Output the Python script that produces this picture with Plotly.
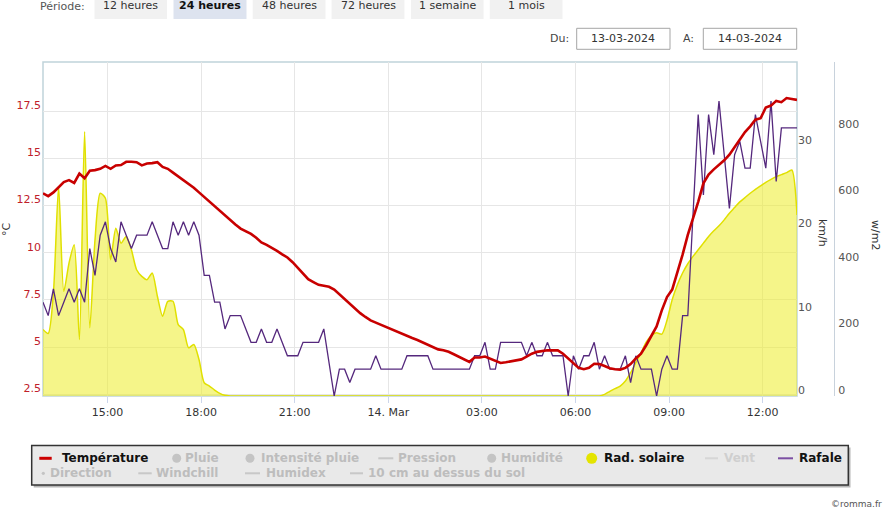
import pandas as pd
import plotly.graph_objects as go

# ---------------- data (10-minute samples, 13-03-2024 12:56 -> 14-03-2024 13:06) ----------------
start_time = "2024-03-13 12:56"
n_samples = 146
times = pd.date_range(start_time, periods=n_samples, freq="10min")

temperature = [
    13.15, 13.0, 13.2, 13.45, 13.75, 13.85, 13.7, 14.2, 13.95, 14.35,
    14.38, 14.45, 14.6, 14.45, 14.63, 14.65, 14.82, 14.82, 14.8, 14.63,
    14.73, 14.75, 14.8, 14.55, 14.45, 14.25, 14.05, 13.85, 13.65, 13.45,
    13.2, 12.95, 12.7, 12.45, 12.2, 11.95, 11.73, 11.5, 11.28, 11.15,
    11.0, 10.8, 10.55, 10.42, 10.27, 10.1, 9.92, 9.75, 9.5, 9.2,
    8.9, 8.6, 8.45, 8.3, 8.25, 8.2, 8.05, 7.8, 7.5, 7.25,
    7.0, 6.8, 6.6, 6.42, 6.3, 6.18, 6.08, 5.95, 5.8, 5.68,
    5.58, 5.48, 5.38, 5.25, 5.1, 4.97, 4.88, 4.83, 4.75, 4.62,
    4.5, 4.35, 4.22, 4.45, 4.45, 4.5, 4.38, 4.25, 4.16, 4.2,
    4.25, 4.3, 4.35, 4.5, 4.65, 4.75, 4.8, 4.83, 4.83, 4.83,
    4.65, 4.4, 4.13, 3.9, 3.83, 3.9, 4.12, 4.1, 4.0, 3.88,
    3.83, 3.81, 3.9, 4.1, 4.4, 4.65, 5.1, 5.6, 6.1, 6.95,
    7.65, 8.05, 8.95, 9.9, 10.95, 11.8, 12.7, 13.68, 14.15, 14.42,
    14.65, 14.9, 15.2, 15.62, 16.05, 16.4, 16.7, 17.05, 17.13, 17.7,
    17.8, 18.05, 17.98, 18.2, 18.15, 18.1,
]

rafale = [
    11.26, 9.65, 12.87, 9.65, 11.26, 12.87, 11.26, 12.87, 11.26, 17.70,
    14.48, 19.31, 20.92, 17.70, 16.09, 20.92, 19.31, 17.70, 19.31, 19.31,
    19.31, 20.92, 19.31, 17.70, 17.70, 20.92, 19.31, 20.92, 19.31, 20.92,
    19.31, 14.48, 14.48, 11.26, 11.26, 8.05, 9.65, 9.65, 9.65, 8.05,
    6.44, 6.44, 8.05, 6.44, 6.44, 8.05, 6.44, 4.83, 4.83, 4.83,
    6.44, 6.44, 6.44, 6.44, 8.05, 4.00, 0.00, 3.22, 3.22, 1.61,
    3.22, 3.22, 3.22, 3.22, 4.83, 3.22, 3.22, 3.22, 3.22, 3.22,
    4.83, 4.83, 4.83, 4.83, 4.83, 3.22, 3.22, 3.22, 3.22, 3.22,
    3.22, 3.22, 3.22, 4.83, 4.83, 6.44, 3.22, 3.22, 6.44, 6.44,
    6.44, 6.44, 6.44, 4.83, 6.44, 4.83, 4.83, 6.44, 4.83, 4.83,
    4.83, 0.00, 4.83, 3.22, 4.83, 4.83, 6.44, 3.22, 4.83, 3.22,
    3.22, 3.22, 4.83, 1.61, 4.83, 3.22, 3.22, 3.22, 0.00, 3.22,
    4.83, 3.22, 3.22, 9.65, 9.65, 22.53, 33.79, 24.14, 33.79, 28.97,
    35.40, 29.00, 22.53, 28.97, 30.58, 27.36, 27.36, 33.79, 30.60, 27.36,
    35.40, 25.75, 32.19, 32.19, 32.19, 32.19,
]

rad_solaire = [
    200, 188, 310, 630, 315, 400, 455, 170, 795, 205,
    470, 610, 595, 410, 505, 460, 480, 440, 380, 360,
    350, 370, 300, 240, 285, 285, 215, 200, 145, 155,
    110, 40, 30, 18, 8, 2, 0, 0, 0, 0,
    0, 0, 0, 0, 0, 0, 0, 0, 0, 0,
    0, 0, 0, 0, 0, 0, 0, 0, 0, 0,
    0, 0, 0, 0, 0, 0, 0, 0, 0, 0,
    0, 0, 0, 0, 0, 0, 0, 0, 0, 0,
    0, 0, 0, 0, 0, 0, 0, 0, 0, 0,
    0, 0, 0, 0, 0, 0, 0, 0, 0, 0,
    0, 0, 0, 0, 0, 0, 0, 0, 5, 14,
    22, 30, 45, 70, 100, 130, 162, 182, 190, 186,
    228, 290, 335, 370, 398, 420, 440, 460, 480, 497,
    512, 530, 550, 567, 584, 597, 610, 622, 632, 643,
    652, 660, 666, 672, 680, 545,
]

x_tick_vals = ["2024-03-13 15:00", "2024-03-13 18:00", "2024-03-13 21:00", "2024-03-14 00:00",
               "2024-03-14 03:00", "2024-03-14 06:00", "2024-03-14 09:00", "2024-03-14 12:00"]
x_tick_text = ["15:00", "18:00", "21:00", "14. Mar", "03:00", "06:00", "09:00", "12:00"]
temp_ticks = [2.5, 5, 7.5, 10, 12.5, 15, 17.5]
temp_tick_text = ["2.5", "5", "7.5", "10", "12.5", "15", "17.5"]
wind_ticks = [0, 10, 20, 30]
solar_ticks = [0, 200, 400, 600, 800]

period_buttons = ["12 heures", "24 heures", "48 heures", "72 heures", "1 semaine", "1 mois"]
date_from = "13-03-2024"
date_to = "14-03-2024"

# ---------------- layout helpers ----------------
W, H = 886, 512
ML, MR, MT, MB = 43, 10, 62, 116
PW = W - ML - MR
PH = H - MT - MB
FONT = "DejaVu Sans"


def px(x):
    return (x - ML) / PW


def py(y):
    return (H - MB - y) / PH


x_dom_end = px(797)

fig = go.Figure()

fig.add_trace(go.Scatter(
    x=times, y=rad_solaire, yaxis="y", mode="lines", name="Rad. solaire",
    line=dict(color="#e0e000", width=1.5, shape="spline", smoothing=0.7),
    fill="tozeroy", fillcolor="rgba(236,236,40,0.55)", hoverinfo="skip"))
fig.add_trace(go.Scatter(
    x=times, y=rafale, yaxis="y2", mode="lines", name="Rafale",
    line=dict(color="#55287d", width=1.3)))
fig.add_trace(go.Scatter(
    x=times, y=temperature, yaxis="y3", mode="lines", name="Température",
    line=dict(color="#c80000", width=2.6)))

tickfont_right = dict(family=FONT, size=11, color="#555555")
LSHIFT = -6

fig.update_layout(
    width=W, height=H,
    margin=dict(l=ML, r=MR, t=MT, b=MB, pad=0),
    paper_bgcolor="white", plot_bgcolor="rgba(0,0,0,0)",
    font=dict(family=FONT, size=11, color="#333333"),
    showlegend=False,
    xaxis=dict(
        type="date", domain=[0, x_dom_end], range=[times[0], times[-1]],
        tickvals=x_tick_vals, ticktext=x_tick_text,
        showgrid=True, gridcolor="#e6e6e6", gridwidth=1,
        ticks="outside", ticklen=6, tickcolor="#ccd6eb",
        tickfont=dict(family=FONT, size=11, color="#333333"),
        showline=False, zeroline=False, automargin=False,
    ),
    yaxis=dict(
        range=[0, 1005], side="right", anchor="free", position=px(834),
        tickvals=solar_ticks, showgrid=False, zeroline=False,
        showline=True, linecolor="#c8d2dc", linewidth=1,
        ticks="", tickfont=tickfont_right, ticklabelshift=LSHIFT, ticklabelstandoff=1,
        automargin=False,
    ),
    yaxis2=dict(
        overlaying="y", side="right", anchor="x", range=[0, 40.1],
        tickvals=wind_ticks, showgrid=False, zeroline=False, showline=False,
        ticks="", tickfont=tickfont_right, ticklabelshift=LSHIFT, ticklabelstandoff=0,
        automargin=False,
    ),
    yaxis3=dict(
        overlaying="y", side="left", anchor="x", range=[2.41, 20.11],
        tickvals=temp_ticks, ticktext=temp_tick_text,
        showgrid=True, gridcolor="#e6e6e6", gridwidth=1, zeroline=False, showline=False,
        ticks="", tickfont=dict(family=FONT, size=11, color="#c0202a"),
        ticklabelshift=LSHIFT, ticklabelstandoff=1, automargin=False,
    ),
)

shapes = []
annos = []


def rect(x0, y0, x1, y1, fill, line=None, lw=1):
    shapes.append(dict(type="rect", xref="paper", yref="paper",
                       x0=px(x0), x1=px(x1), y0=py(y1), y1=py(y0),
                       fillcolor=fill, line=dict(color=line or "rgba(0,0,0,0)", width=lw if line else 0),
                       layer="below"))


def hline(x0, x1, y, color, lw):
    shapes.append(dict(type="line", xref="paper", yref="paper",
                       x0=px(x0), x1=px(x1), y0=py(y), y1=py(y),
                       line=dict(color=color, width=lw), layer="above"))


def circle(cx, cy, r, color):
    shapes.append(dict(type="circle", xref="paper", yref="paper",
                       x0=px(cx - r), x1=px(cx + r), y0=py(cy + r), y1=py(cy - r),
                       fillcolor=color, line=dict(width=0), layer="above"))


def text(x, y, s, size=11, color="#333333", anchor="left", bold=False, angle=0):
    annos.append(dict(xref="paper", yref="paper", x=px(x), y=py(y), text=f"<b>{s}</b>" if bold else s,
                      showarrow=False, xanchor=anchor, yanchor="middle", textangle=angle,
                      font=dict(family=FONT, size=size, color=color)))


# plot border
shapes.append(dict(type="rect", xref="paper", yref="paper", x0=0, x1=x_dom_end, y0=0, y1=1,
                   line=dict(color="#c0d3da", width=1.5), fillcolor="rgba(0,0,0,0)", layer="below"))

# axis titles
text(6, 229, "°C", size=11, color="#333333", anchor="center", angle=-90)
text(823, 233, "km/h", size=11, color="#333333", anchor="center", angle=90)
text(876, 235, "w/m2", size=11, color="#333333", anchor="center", angle=90)

# period selector
text(87, 7, "Période:", size=11, color="#555555", anchor="right")
btn_x = [(94.5, 167), (173.5, 246.5), (252.7, 325.5), (331.6, 404.4), (411, 483.6), (489.8, 562.5)]
for (x0, x1), lab in zip(btn_x, period_buttons):
    sel = lab == "24 heures"
    rect(x0, -2, x1, 19, "#dde3ef" if sel else "#f1f1f1")
    text((x0 + x1) / 2, 5.5, lab, size=11, color="#111111" if sel else "#333333", anchor="center", bold=sel)

# date range
text(559, 38, "Du:", size=11, color="#444444", anchor="center")
rect(576.7, 28.3, 670, 49.3, "white", "#a5a5a5", 1)
text(623.3, 38.8, date_from, size=11, color="#333333", anchor="center")
text(688, 38, "A:", size=11, color="#444444", anchor="center")
rect(703.3, 28.3, 796.7, 49.3, "white", "#a5a5a5", 1)
text(750, 38.8, date_to, size=11, color="#333333", anchor="center")

# legend box
rect(33.7, 447.5, 850.5, 487.5, "#b5b5b5")
rect(31.7, 445.5, 848.3, 485, "#e9e9e9", "#333333", 1.5)
R1, R2 = 458.3, 473.3
GREY = "#bdbdbd"
hline(39.3, 51.7, R1, "#cc0000", 3)
text(59.5, R1, "Température", size=12, color="#111111", bold=True)
circle(176.7, R1, 4.5, "#c4c4c4")
text(182.5, R1, "Pluie", size=12, color=GREY, bold=True)
circle(250, R1, 4.5, "#c4c4c4")
text(259, R1, "Intensité pluie", size=12, color=GREY, bold=True)
hline(378.3, 393.3, R1, "#c8c8c8", 2)
text(396, R1, "Pression", size=12, color=GREY, bold=True)
circle(491.7, R1, 4.5, "#c4c4c4")
text(499, R1, "Humidité", size=12, color=GREY, bold=True)
circle(591.7, R1, 5.5, "#e4e400")
text(602, R1, "Rad. solaire", size=12, color="#111111", bold=True)
hline(705, 718, R1, "#d6d6d6", 2)
text(722, R1, "Vent", size=12, color="#cfcfcf", bold=True)
hline(778, 793, R1, "#7c4fa3", 2)
text(797, R1, "Rafale", size=12, color="#111111", bold=True)

circle(43.3, R2, 1.6, "#c4c4c4")
text(48, R2, "Direction", size=12, color=GREY, bold=True)
hline(138.3, 151.7, R2, "#c8c8c8", 2)
text(153.5, R2, "Windchill", size=12, color=GREY, bold=True)
hline(245, 260, R2, "#c8c8c8", 2)
text(264, R2, "Humidex", size=12, color=GREY, bold=True)
hline(350, 363, R2, "#c8c8c8", 2)
text(366, R2, "10 cm au dessus du sol", size=12, color=GREY, bold=True)

# credit
text(884, 504, "©romma.fr", size=9, color="#555555", anchor="right")

fig.update_layout(shapes=shapes, annotations=annos)

fig.write_html("out.html")
